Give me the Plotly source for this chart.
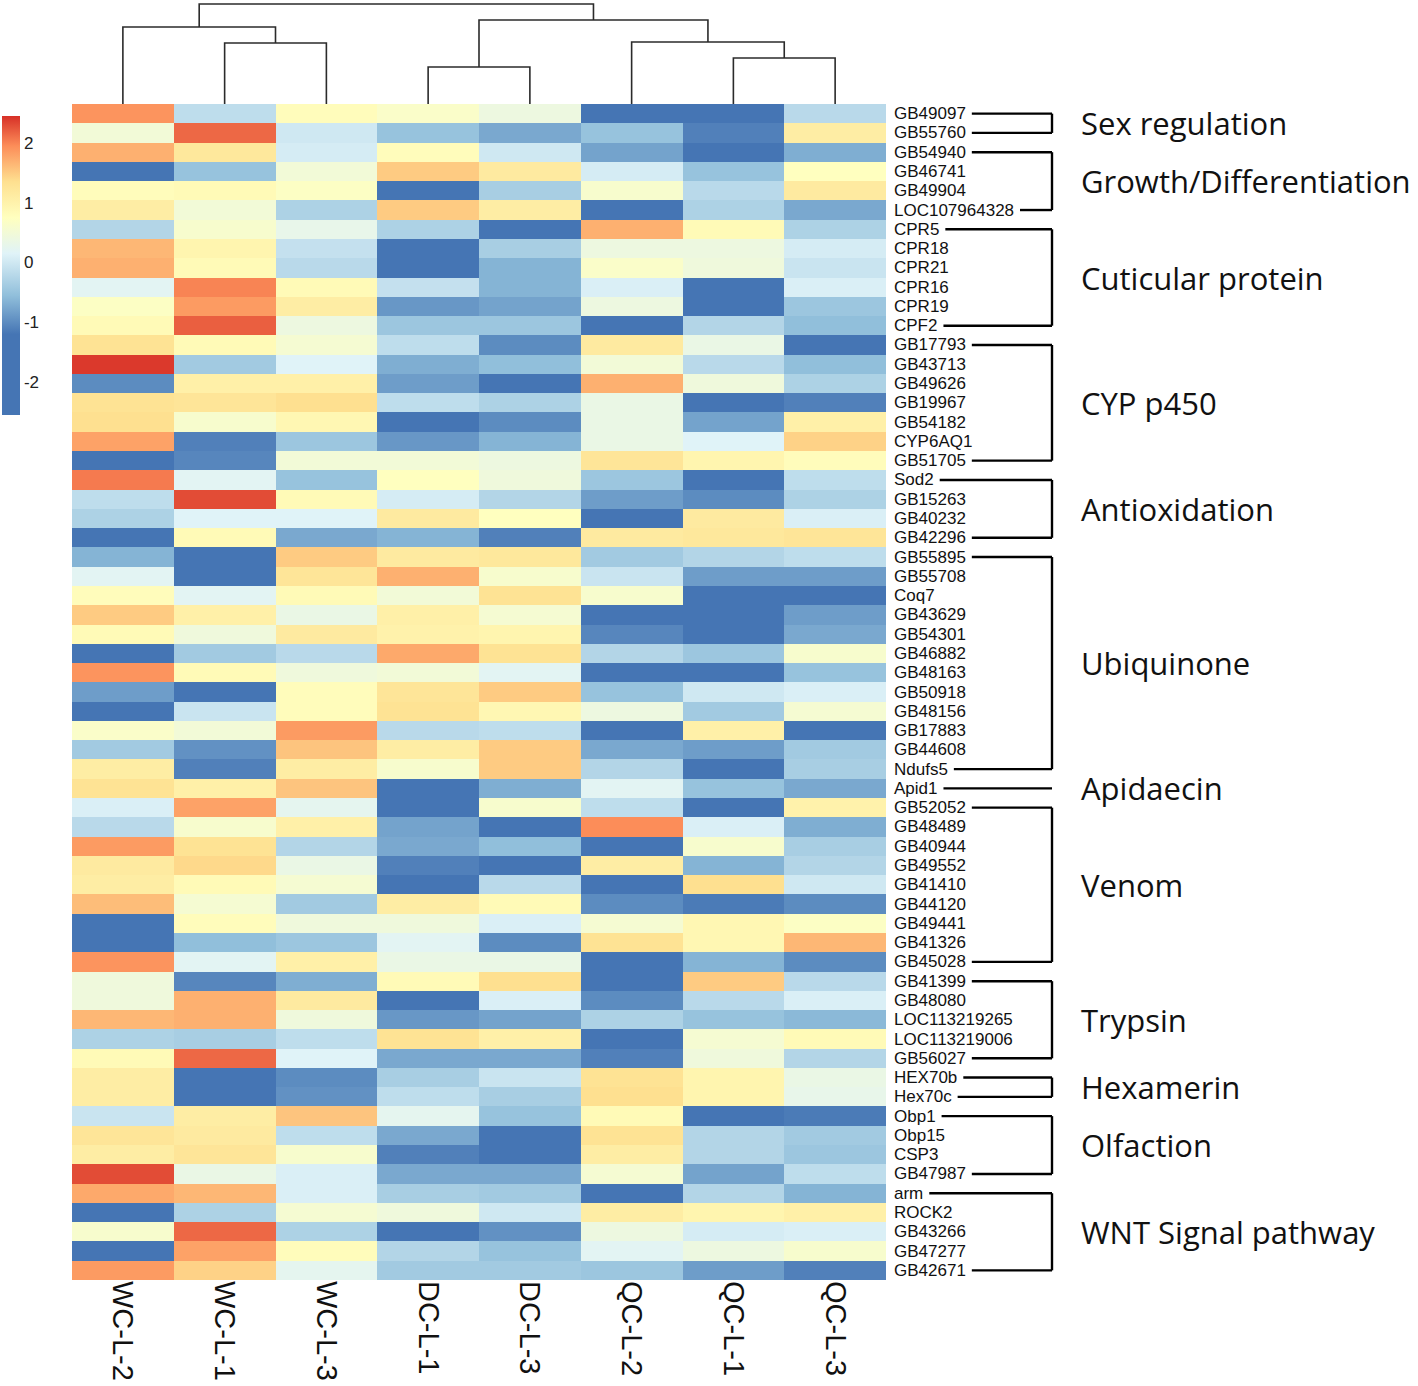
import plotly.graph_objects as go

W, H = 1418, 1386

# 样本（已按聚类顺序排列）
samples = ['WC-L-2', 'WC-L-1', 'WC-L-3', 'DC-L-1', 'DC-L-3', 'QC-L-2', 'QC-L-1', 'QC-L-3']

genes = [
    'GB49097', 'GB55760', 'GB54940', 'GB46741', 'GB49904', 'LOC107964328',
    'CPR5', 'CPR18', 'CPR21', 'CPR16', 'CPR19', 'CPF2',
    'GB17793', 'GB43713', 'GB49626', 'GB19967', 'GB54182', 'CYP6AQ1', 'GB51705',
    'Sod2', 'GB15263', 'GB40232', 'GB42296',
    'GB55895', 'GB55708', 'Coq7', 'GB43629', 'GB54301', 'GB46882', 'GB48163',
    'GB50918', 'GB48156', 'GB17883', 'GB44608', 'Ndufs5',
    'Apid1',
    'GB52052', 'GB48489', 'GB40944', 'GB49552', 'GB41410', 'GB44120', 'GB49441',
    'GB41326', 'GB45028',
    'GB41399', 'GB48080', 'LOC113219265', 'LOC113219006', 'GB56027',
    'HEX70b', 'Hex70c',
    'Obp1', 'Obp15', 'CSP3', 'GB47987',
    'arm', 'ROCK2', 'GB43266', 'GB47277', 'GB42671',
]

# 行标准化后的表达量 (z-score)，按图中颜色估读
expr_z = [
    [1.9, -0.15, 0.8, 0.65, 0.4, -1.8, -1.8, -0.2],
    [0.5, 2.15, 0.0, -0.5, -0.75, -0.5, -1.1, 1.1],
    [1.7, 1.2, 0.05, 0.8, 0.0, -0.8, -1.8, -0.7],
    [-1.8, -0.5, 0.5, 1.5, 1.15, 0.05, -0.5, 0.75],
    [0.8, 0.85, 0.7, -1.8, -0.35, 0.6, -0.2, 1.15],
    [1.1, 0.5, -0.3, 1.5, 1.1, -1.8, -0.3, -0.75],
    [-0.25, 0.6, 0.3, -0.3, -1.8, 1.7, 0.85, -0.3],
    [1.65, 0.95, -0.1, -1.8, -0.35, 0.4, 0.4, 0.05],
    [1.7, 0.85, -0.2, -1.8, -0.65, 0.65, 0.45, -0.05],
    [0.2, 2.0, 0.85, -0.1, -0.65, 0.1, -1.8, 0.1],
    [0.7, 1.85, 1.1, -0.9, -0.8, 0.4, -1.2, -0.45],
    [0.85, 2.2, 0.4, -0.45, -0.45, -1.2, -0.25, -0.55],
    [1.3, 0.85, 0.55, -0.15, -1.0, 1.15, 0.35, -1.8],
    [2.4, -0.4, 0.15, -0.7, -0.55, 0.5, -0.2, -0.55],
    [-1.0, 1.05, 1.05, -0.85, -1.8, 1.7, 0.45, -0.3],
    [1.3, 1.25, 1.35, -0.15, -0.3, 0.35, -1.8, -1.1],
    [1.35, 0.6, 0.9, -1.8, -1.0, 0.35, -0.8, 1.05],
    [1.8, -1.1, -0.45, -0.9, -0.65, 0.35, 0.15, 1.45],
    [-1.8, -1.05, 0.5, 0.5, 0.4, 1.25, 0.95, 0.8],
    [2.05, 0.2, -0.5, 0.75, 0.45, -0.45, -1.8, -0.15],
    [-0.15, 2.3, 0.85, 0.05, -0.25, -0.85, -1.0, -0.3],
    [-0.3, 0.15, 0.15, 1.15, 0.75, -1.8, 1.15, 0.1],
    [-1.8, 0.85, -0.75, -0.65, -1.1, 1.15, 1.2, 1.25],
    [-0.65, -1.8, 1.5, 1.15, 1.2, -0.4, -0.25, -0.15],
    [0.2, -1.8, 1.25, 1.7, 0.6, -0.05, -0.85, -0.85],
    [0.8, 0.2, 0.85, 0.5, 1.3, 0.6, -1.2, -1.8],
    [1.5, 1.05, 0.35, 1.05, 0.55, -1.8, -1.8, -0.85],
    [0.85, 0.45, 1.15, 1.0, 0.95, -1.05, -1.8, -0.75],
    [-1.8, -0.4, -0.2, 1.75, 1.3, -0.25, -0.45, 0.6],
    [1.9, 0.85, 0.45, 0.5, 0.2, -1.8, -1.8, -0.5],
    [-0.85, -1.8, 0.8, 1.25, 1.5, -0.5, 0.0, 0.1],
    [-1.8, -0.05, 0.8, 1.3, 0.9, 0.4, -0.4, 0.55],
    [0.65, 0.5, 1.85, -0.2, -0.15, -1.8, 1.05, -1.8],
    [-0.4, -0.95, 1.55, 1.1, 1.5, -0.75, -0.85, -0.4],
    [1.1, -1.1, 1.1, 0.6, 1.5, -0.25, -1.8, -0.35],
    [1.3, 1.05, 1.55, -1.8, -0.7, 0.2, -0.5, -0.75],
    [0.1, 1.8, 0.25, -1.8, 0.6, -0.15, -1.8, 1.0],
    [-0.2, 0.6, 1.05, -0.8, -1.8, 1.95, 0.1, -0.7],
    [1.85, 1.3, -0.25, -0.75, -0.55, -1.8, 0.6, -0.35],
    [1.15, 1.4, 0.35, -1.1, -1.8, 1.1, -0.65, -0.25],
    [1.1, 0.85, 0.55, -1.8, -0.2, -1.8, 1.35, 0.0],
    [1.6, 0.55, -0.4, 1.1, 0.85, -1.0, -1.15, -1.0],
    [-1.8, 0.8, 0.45, 0.45, 0.1, 0.55, 0.9, 0.7],
    [-1.8, -0.55, -0.45, 0.2, -1.0, 1.3, 0.9, 1.65],
    [1.9, 0.2, 1.05, 0.35, 0.35, -1.8, -0.65, -1.0],
    [0.45, -1.05, -0.7, 0.85, 1.35, -1.8, 1.5, -0.2],
    [0.45, 1.7, 1.15, -1.8, 0.1, -1.0, -0.2, 0.1],
    [1.65, 1.7, 0.45, -0.9, -0.8, -0.3, -0.5, -0.6],
    [-0.3, -0.35, -0.15, 1.3, 1.05, -1.8, 0.55, 0.85],
    [0.85, 2.15, 0.15, -0.75, -0.75, -1.1, 0.45, -0.25],
    [1.1, -1.8, -1.0, -0.35, -0.05, 1.3, 0.95, 0.35],
    [1.1, -1.8, -0.95, -0.15, -0.35, 1.35, 0.95, 0.3],
    [-0.05, 1.1, 1.55, 0.25, -0.5, 0.85, -1.8, -1.15],
    [1.25, 1.15, -0.15, -0.75, -1.8, 1.3, -0.25, -0.4],
    [1.1, 1.25, 0.6, -1.1, -1.8, 1.1, -0.25, -0.45],
    [2.3, 0.35, 0.1, -0.75, -0.75, 0.55, -0.8, -0.15],
    [1.75, 1.65, 0.1, -0.35, -0.4, -1.8, -0.25, -0.65],
    [-1.8, -0.3, 0.55, 0.45, 0.0, 1.1, 0.95, 1.05],
    [0.6, 2.15, -0.3, -1.8, -0.95, 0.4, 0.05, 0.1],
    [-1.8, 1.8, 0.8, -0.25, -0.5, 0.2, 0.4, 0.6],
    [1.85, 1.45, 0.25, -0.4, -0.4, -0.45, -0.85, -1.1],
]

# 功能分组（按行顺序，给出每组的基因数）
group_names = ['Sex regulation', 'Growth/Differentiation', 'Cuticular protein', 'CYP p450',
               'Antioxidation', 'Ubiquinone', 'Apidaecin', 'Venom', 'Trypsin',
               'Hexamerin', 'Olfaction', 'WNT Signal pathway']
group_sizes = [2, 4, 6, 7, 4, 12, 1, 9, 5, 2, 4, 5]

# 列聚类：叶子 0-7 为上面 samples 的顺序，新节点从 8 开始编号
tree_left = [1, 0, 3, 6, 5, 10, 9]
tree_right = [2, 8, 4, 7, 11, 12, 13]
tree_height = [61, 77, 37, 46, 62, 84, 100]

colorbar_ticks = [-2, -1, 0, 1, 2]
colorbar_ticktext = ['-2', '-1', '0', '1', '2']
zmin, zmax = -2.55, 2.45

# ---- 版面（像素，去掉页面 body 的默认外边距） ----
hm_left, hm_right, hm_top, hm_bottom = 72, 886, 104, 1280
label_x = 893
bracket_x = 1052
group_label_x = 1079
px = lambda v: v / W
py = lambda v: 1 - v / H

colorscale = [
    [0.0, '#4575B4'], [0.27, '#4575B4'], [0.40, '#91BFDB'], [0.54, '#E0F3F8'],
    [0.66, '#FFFFBF'], [0.78, '#FEE090'], [0.90, '#FC8D59'], [1.0, '#D73027'],
]

fig = go.Figure()
fig.add_trace(go.Heatmap(
    z=expr_z, x=list(range(len(samples))), y=list(range(len(genes))),
    zmin=zmin, zmax=zmax, colorscale=colorscale,
    hovertext=[[f'{g} / {s}' for s in samples] for g in genes],
    colorbar=dict(
        x=px(2), xanchor='left', xpad=0, ypad=0, y=py((116 + 415) / 2), yanchor='middle',
        lenmode='pixels', len=299, thickness=18, outlinewidth=0,
        tickvals=colorbar_ticks, ticktext=colorbar_ticktext, ticks='',
        tickfont=dict(family='Liberation Sans, Arial', size=17, color='#222'),
    ),
    xaxis='x', yaxis='y',
))

# 树状图
n_leaf = len(samples)
node_x = {i: float(i) for i in range(n_leaf)}
node_h = {i: 0.0 for i in range(n_leaf)}
dx, dy = [], []
for k, (a, b, h) in enumerate(zip(tree_left, tree_right, tree_height)):
    dx += [node_x[a], node_x[a], node_x[b], node_x[b], None]
    dy += [node_h[a], h, h, node_h[b], None]
    node_x[n_leaf + k] = (node_x[a] + node_x[b]) / 2
    node_h[n_leaf + k] = h
fig.add_trace(go.Scatter(x=dx, y=dy, mode='lines', line=dict(color='#2b2b2b', width=1.6),
                         xaxis='x2', yaxis='y2', hoverinfo='skip', showlegend=False))

# 基因标签宽度估计（Arial 字宽，单位 em）
cw = {'G': .778, 'B': .667, 'C': .722, 'P': .667, 'R': .722, 'F': .611, 'L': .556, 'O': .778,
      'Y': .667, 'A': .667, 'Q': .778, 'S': .667, 'H': .722, 'E': .667, 'X': .667, 'K': .667,
      'N': .722, 'o': .556, 'd': .556, 'q': .556, 'u': .556, 'f': .278, 's': .5, 'p': .556,
      'i': .222, 'b': .556, 'c': .5, 'a': .556, 'r': .333, 'm': .833, 'e': .556, 'x': .5}
label_size = 17
text_w = lambda t: sum(cw.get(ch, .556) for ch in t) * label_size

annotations = []
for i, g in enumerate(genes):
    annotations.append(dict(x=px(label_x), xref='paper', y=i, yref='y', text=g, showarrow=False,
                            xanchor='left', yanchor='middle', xshift=-1,
                            font=dict(family='Liberation Sans, Arial', size=label_size, color='#111')))

shapes = []
start = 0
for name, n in zip(group_names, group_sizes):
    first, last = start, start + n - 1
    for r in sorted({first, last}):
        x0 = label_x + text_w(genes[r]) + 7
        shapes.append(dict(type='line', xref='paper', yref='y', x0=px(x0), x1=px(bracket_x),
                           y0=r, y1=r, line=dict(color='black', width=2.4)))
    if last > first:
        shapes.append(dict(type='line', xref='paper', yref='y', x0=px(bracket_x), x1=px(bracket_x),
                           y0=first, y1=last, line=dict(color='black', width=2.4)))
    annotations.append(dict(x=px(group_label_x), xref='paper', y=(first + last) / 2, yref='y',
                            text=name, showarrow=False, xanchor='left', yanchor='middle',
                            font=dict(family='Open Sans, Noto Sans', size=31, color='#111')))
    start += n

fig.update_layout(
    width=W, height=H, margin=dict(l=0, r=0, t=0, b=0),
    paper_bgcolor='white', plot_bgcolor='white', showlegend=False,
    xaxis=dict(domain=[px(hm_left), px(hm_right)], range=[-0.5, n_leaf - 0.5],
               tickvals=list(range(n_leaf)), ticktext=samples, tickangle=90,
               tickfont=dict(family='Liberation Sans, Arial', size=29, color='#111'),
               showgrid=False, zeroline=False, showline=False, ticks=''),
    yaxis=dict(domain=[py(hm_bottom), py(hm_top)], range=[len(genes) - 0.5, -0.5],
               showticklabels=False, showgrid=False, zeroline=False, ticks=''),
    xaxis2=dict(domain=[px(hm_left), px(hm_right)], range=[-0.5, n_leaf - 0.5], anchor='y2',
                visible=False),
    yaxis2=dict(domain=[py(hm_top), 1], range=[0, hm_top], anchor='x2', visible=False),
    shapes=shapes, annotations=annotations,
)

fig.write_html('out.html', config={'displayModeBar': False},
               post_script="document.body.style.margin='0';")
